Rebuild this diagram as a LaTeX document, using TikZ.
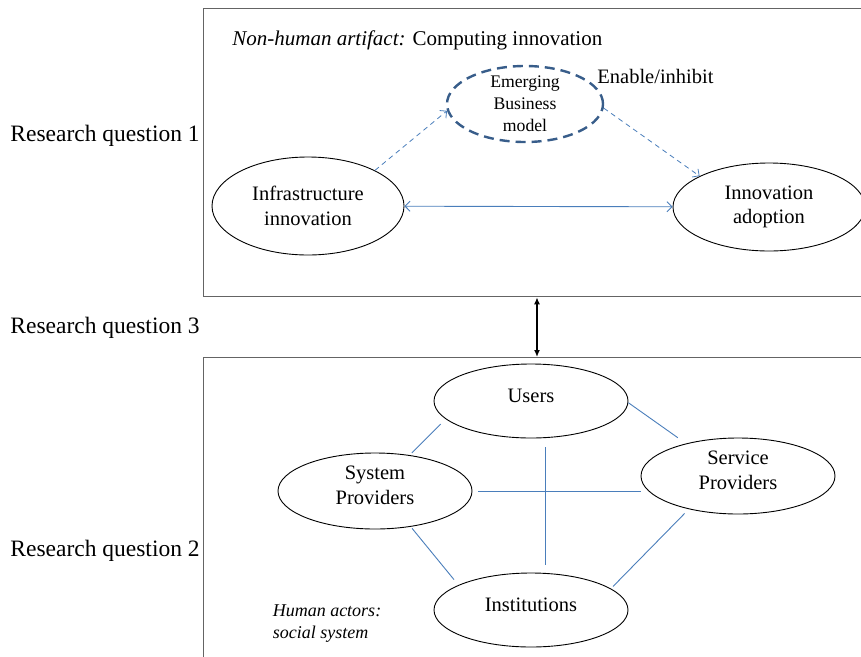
\documentclass[tikz,border=0pt]{standalone}
\usepackage{fontspec}
\setmainfont{Liberation Serif}
\usetikzlibrary{shapes.geometric,arrows.meta}
\definecolor{linkblue}{RGB}{74,126,187}
\definecolor{dashblue}{RGB}{56,93,138}
\definecolor{framegray}{RGB}{100,100,100}

\begin{document}
\begin{tikzpicture}[x=1pt, y=-1pt, thick, >={Straight Barb[length=5pt,width=10pt]},
    main/.style = {draw, ellipse, line width=0.9pt, inner sep=0pt, align=center, minimum width=192pt, font=\fontsize{20.5}{24.6}\selectfont},
    actor/.style = {main, minimum width=194pt, execute at end node={\rule[-11pt]{0pt}{11pt}}},
    frame/.style = {draw=framegray, line width=1.3pt, rectangle, anchor=north west},
    link/.style = {draw=linkblue, line width=0.9pt},
    effect/.style = {draw=linkblue, line width=0.8pt, dash pattern=on 5pt off 4pt, ->},
    rq/.style = {anchor=base west, inner sep=0pt, font=\fontsize{23.5}{28}\selectfont}]
    \useasboundingbox (0,0) rectangle (861,656);
    \clip (0,0) rectangle (861,656);
    % the two frames
    \node[frame, minimum width=680pt, minimum height=288pt] (artifact) at (203,8) {};
    \node[frame, minimum width=680pt, minimum height=320pt] (social) at (203,357) {};
    % labels on the left
    \node[rq] (rq1) at (10,141) {Research question 1};
    \node[rq] (rq3) at (10,333) {Research question 3};
    \node[rq] (rq2) at (10,556) {Research question 2};
    % non-human artifact
    \node[anchor=base west, inner sep=0pt, font=\fontsize{21}{25}\selectfont] (artifactlabel) at (232,45) {\textit{Non-human artifact:} Computing innovation};
    \node[main, minimum height=98pt] (infra) at (308,206) {Infrastructure\\innovation};
    \node[main, minimum height=88pt] (adopt) at (769,207) {Innovation\\adoption};
    \node[main, draw=dashblue, line width=2.4pt, dash pattern=on 10pt off 6pt, inner ysep=-10pt, execute at begin node={\rule{0pt}{20pt}}, minimum width=156pt, minimum height=76pt, font=\fontsize{17.7}{22}\selectfont] (model) at (525,104) {Emerging\\Business\\model};
    \node[anchor=base west, inner sep=0pt, font=\fontsize{20.5}{24.6}\selectfont] (enable) at (597,83) {Enable/inhibit};
    \draw[effect] (infra.28) -- (model.185);
    \draw[effect] (model.-3) -- (adopt.156);
    \draw[link, <->] (infra) -- (adopt);
    % between the frames
    \coordinate (mid) at (537,0);
    \draw[line width=1.8pt, {Latex[length=7pt,width=6pt]}-{Latex[length=7pt,width=6pt]}] (mid |- artifact.south) -- (mid |- social.north);
    % human actors
    \node[actor, minimum height=74pt] (users) at (531,401) {Users};
    \node[actor, minimum height=76pt] (sysprov) at (375,491) {System\\Providers};
    \node[actor, minimum height=76pt] (servprov) at (738,476) {Service\\Providers};
    \node[actor, minimum height=74pt] (inst) at (531,610) {Institutions};
    \node[align=left, inner sep=0pt, font=\fontsize{18}{22}\selectfont\itshape] (sociallabel) at (327,624) {Human actors:\\social system};
    \draw[link, shorten <=7pt, shorten >=3pt] (users.192) -- (sysprov.46.6);
    \draw[link, shorten >=10pt] (users.-1) -- (servprov.148.4);
    \draw[link, shorten <=6pt] (sysprov.east) -- (servprov.west |- sysprov.east);
    \draw[link, shorten <=9pt, shorten >=8pt] ([xshift=14pt]users.south) -- ([xshift=14pt]inst.north);
    \draw[link, shorten <=2pt, shorten >=7pt] (sysprov.-45) -- (inst.161);
    \draw[link, shorten <=6pt, shorten >=3pt] (servprov.214) -- (inst.15);
\end{tikzpicture}
\end{document}
